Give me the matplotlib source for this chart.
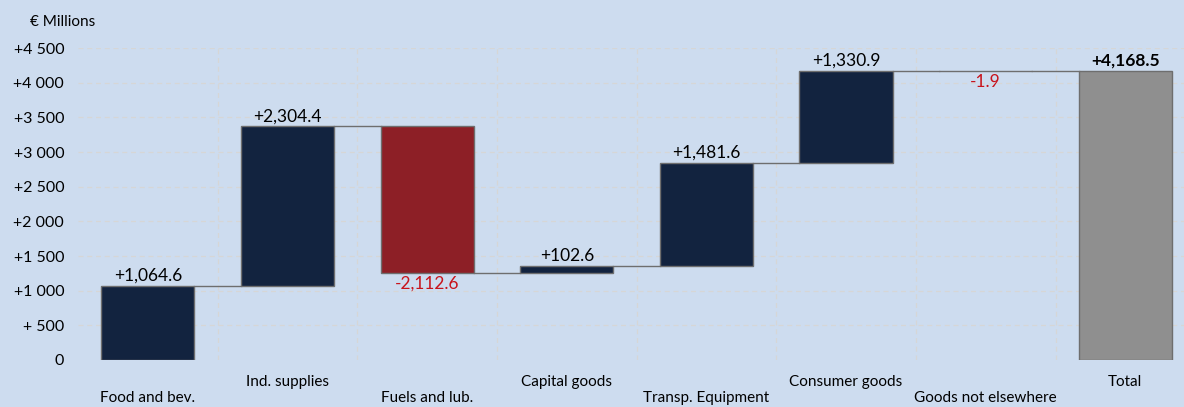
import numpy as np
import matplotlib.pyplot as plt

plt.rcParams['font.family'] = ['Lato', 'DejaVu Sans']

categories = ['Food and bev.', 'Ind. supplies', 'Fuels and lub.', 'Capital goods',
              'Transp. Equipment', 'Consumer goods', 'Goods not elsewhere', 'Total']
changes = [1064.6, 2304.4, -2112.6, 102.6, 1481.6, 1330.9, -1.9]
total = 4168.5
yticks = [0, 500, 1000, 1500, 2000, 2500, 3000, 3500, 4000, 4500]
ytick_labels = ['0', '+ 500', '+1 000', '+1 500', '+2 000', '+2 500', '+3 000',
                '+3 500', '+4 000', '+4 500']

bg = '#cddcef'
navy = '#12233f'
red = '#8d1f26'
grey = '#8f8f8f'
edge = '#6e6e6e'

fig = plt.figure(figsize=(11.84, 4.07), dpi=100, facecolor=bg)
ax = fig.add_axes([0.0659, 0.1155, 1 - 0.0659, 0.882 - 0.1155])
ax.set_facecolor(bg)

w = 0.667
x = np.arange(len(categories))
starts = np.concatenate([[0], np.cumsum(changes)[:-1]])
ends = np.cumsum(changes)

for i, (s, c) in enumerate(zip(starts, changes)):
    col = navy if c >= 0 else red
    ax.bar(x[i], c, bottom=s, width=w, color=col, edgecolor=edge, linewidth=1, zorder=3)
    if c >= 0:
        ax.text(x[i], s + c + 30, f'+{c:,.1f}', ha='center', va='bottom', fontsize=12.5, color='black')
    else:
        ax.text(x[i], s + c - 40, f'{c:,.1f}', ha='center', va='top', fontsize=12.5, color='#c8141c')
    # connector to next bar
    ax.plot([x[i] + w / 2, x[i + 1] - w / 2], [ends[i], ends[i]], color=edge, lw=1, zorder=2)

ax.bar(x[-1], total, width=w, color=grey, edgecolor=edge, linewidth=1, zorder=3)
ax.text(x[-1], total + 30, f'+{total:,.1f}', ha='center', va='bottom', fontsize=12.5,
        fontweight='bold', color='black')

ax.set_xlim(-0.5, 7.42)
ax.set_ylim(0, 4500)
ax.set_yticks(yticks)
ax.set_yticklabels(ytick_labels, fontsize=11.5)
ax.tick_params(axis='y', length=0, pad=10)
ax.set_xticks([])

for yv in yticks[1:]:
    ax.axhline(yv, color='#d6d6d6', lw=0.9, ls=(0, (4, 3)), zorder=1)
for b in np.arange(0.5, 7, 1):
    ax.axvline(b, color='#d6d6d6', lw=0.9, ls=(0, (4, 3)), zorder=1)

for i, name in enumerate(categories):
    yoff = -0.0705 if i % 2 == 1 else -0.122
    ax.text(x[i], yoff, name, transform=ax.get_xaxis_transform(), ha='center', va='center',
            fontsize=11, color='black')

for sp in ax.spines.values():
    sp.set_visible(False)

fig.text(30 / 1184, 1 - 22 / 407, '€ Millions', ha='left', va='center', fontsize=11)

fig.savefig('out.png', dpi=100, facecolor=bg)
